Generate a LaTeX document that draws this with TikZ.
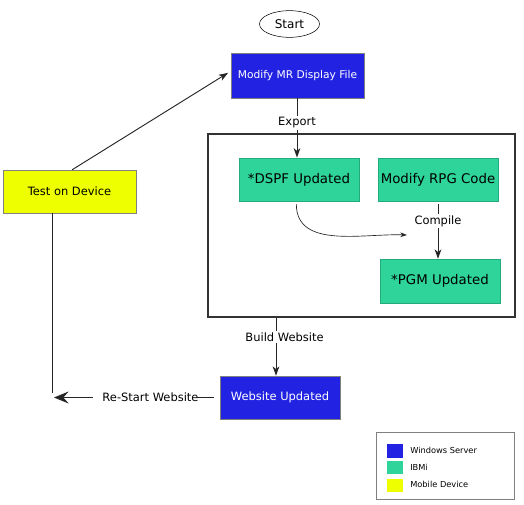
\documentclass[tikz,border=0pt]{standalone}
\usepackage{fontspec}
\setmainfont{DejaVu Sans}
\usetikzlibrary{arrows.meta,shapes.geometric}

\definecolor{winblue}{RGB}{34,34,226}
\definecolor{ibmgreen}{RGB}{46,212,154}
\definecolor{mobyellow}{RGB}{238,255,0}

\begin{document}
\begin{tikzpicture}[%
      x=0.75pt, y=-0.75pt,
      every node/.style={inner sep=0pt},
      winbox/.style={draw=gray, fill=winblue, text=white, font=\fontsize{8.6}{10}\selectfont},
      ibmbox/.style={draw=ibmgreen!80!black, fill=ibmgreen, font=\fontsize{10}{12}\selectfont,
                     minimum width=90pt, minimum height=32.5pt},
      lbl/.style={font=\fontsize{8.6}{10}\selectfont, fill=white, inner sep=1pt},
      line/.style={draw=black!85, line width=0.7pt},
      arr/.style={line, -{Stealth[length=7pt,width=5pt,inset=2pt]}},
      ]
      \useasboundingbox (0,0) rectangle (524,504);

      % boxes
      \node[draw, ellipse, minimum width=45pt, minimum height=20pt,
            font=\fontsize{9}{11}\selectfont] (start) at (289.5,24) {Start};
      \node[winbox, minimum width=99.75pt, minimum height=33.75pt,
            font=\fontsize{8}{10}\selectfont] (mr) at (297.5,75.5) {Modify MR Display File};
      \node[draw=black!80, line width=0.8pt, minimum width=230.25pt, minimum height=137.25pt] (ibmi) at (361.5,225.5) {};
      \node[ibmbox] (dspf) at (299,179.5) {*DSPF Updated};
      \node[ibmbox] (rpg) at (438,179.5) {Modify RPG Code};
      \node[ibmbox, minimum height=33pt] (pgm) at (440,281) {*PGM Updated};
      \node[draw=gray, fill=mobyellow, minimum width=99.75pt, minimum height=32.25pt,
            font=\fontsize{8.6}{10}\selectfont] (test) at (69.5,191.5) {Test on Device};
      \node[winbox, minimum width=90pt, minimum height=32.25pt] (web) at (280,397.5) {Website Updated};

      % labels
      \node[lbl] (export) at (297,123) {Export};
      \node[lbl] (compile) at (438,221) {Compile};
      \node[lbl] (build) at (284.5,337) {Build Website};
      \node[lbl] (restart) at (150.5,397.5) {Re-Start Website};

      % connectors
      \draw[line] (mr.south -| export) -- (export.north);
      \draw[arr] (export.south) -- (export |- dspf.north);
      \draw[line] ([yshift=-2pt]rpg.south) -- (compile.north);
      \draw[arr] (compile.south) -- (compile |- pgm.north);
      \coordinate (merge) at (407,235);
      \draw[line, line width=0.5pt, -{Stealth[length=5pt,width=3.5pt,inset=1.5pt]}]
            ([xshift=-2pt,yshift=-2pt]dspf.south) to[out=-90, in=178] (merge);
      \draw[line] ([xshift=-3pt]web.north |- ibmi.south) -- ([xshift=-3pt]web.north |- build.north);
      \draw[arr] ([xshift=-3pt]web.north |- build.south) -- ([xshift=-3pt]web.north);
      \draw[arr] ([xshift=2pt]test.north) -- ([xshift=-2pt,yshift=2pt]mr.west);
      \coordinate (loopend) at (52,393);
      \draw[line] (test.south -| loopend) -- (loopend);
      \draw[line] ([xshift=-4.5pt]web.west) -- ([xshift=-3pt]restart.east);
      \coordinate (restarttip) at (54,397.5);
      \draw[line, -{Stealth[length=11pt,width=9pt,inset=4pt]}] ([xshift=-6pt]restart.west) -- (restarttip);

      % legend
      \node[draw=gray, minimum width=103.5pt, minimum height=50.25pt] (legend) at (445,465.5) {};
      \node[fill=winblue, minimum width=12pt, minimum height=10.5pt] (swwin) at (395,451) {};
      \node[fill=ibmgreen, minimum width=12pt, minimum height=10pt] (swibm) at (395,467.5) {};
      \node[fill=mobyellow, minimum width=12pt, minimum height=10pt] (swmob) at (395,485.5) {};
      \node[anchor=west, font=\fontsize{6.2}{7}\selectfont] (lwin) at (410,450) {Windows Server};
      \node[anchor=west, font=\fontsize{6.2}{7}\selectfont] (libm) at (410,467) {IBMi};
      \node[anchor=west, font=\fontsize{6.2}{7}\selectfont] (lmob) at (410,484) {Mobile Device};
      \end{tikzpicture}
\end{document}
